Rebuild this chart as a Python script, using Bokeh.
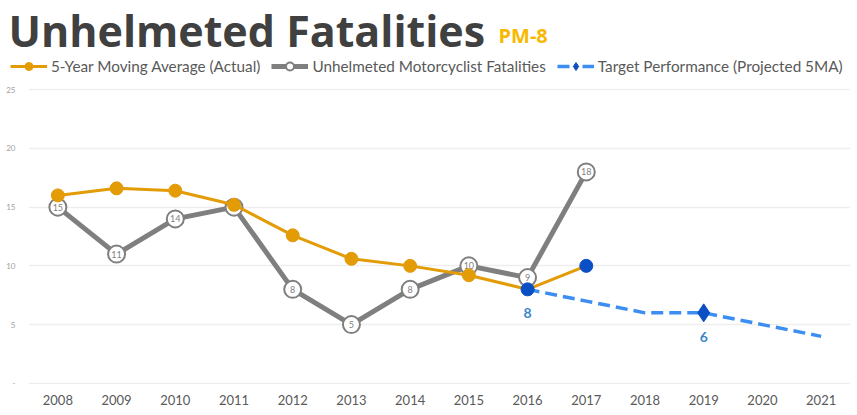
from bokeh.plotting import figure
from bokeh.layouts import column
from bokeh.models import ColumnDataSource, FixedTicker, Legend, LegendItem, Range1d, Label
from bokeh.core.properties import value
from bokeh.embed import file_html
from bokeh.resources import INLINE

# ---- data ----
years = list(range(2008, 2022))
ma_years = list(range(2008, 2018))
ma_values = [16.0, 16.6, 16.4, 15.2, 12.6, 10.6, 10.0, 9.2, 8.0, 10.0]
fat_years = list(range(2008, 2018))
fat_values = [15, 11, 14, 15, 8, 5, 8, 10, 9, 18]
target_years = [2016, 2017, 2018, 2019, 2020, 2021]
target_values = [8, 7, 6, 6, 5, 4]
target_marker_years = [2019]
target_marker_values = [6]
callout_years = [2016, 2019]
callout_values = [8, 6]
y_ticks = [0, 5, 10, 15, 20, 25]

title_text = "Unhelmeted Fatalities"
subtitle_text = "PM-8"
legend_labels = ["5-Year Moving Average (Actual)",
                 "Unhelmeted Motorcyclist Fatalities",
                 "Target Performance (Projected 5MA)"]

# ---- style ----
ORANGE = "#e39b06"
GRAY = "#7f7f7f"
DARKBLUE = "#0a4fc4"
LIGHTBLUE = "#3d8ef2"
LABELBLUE = "#3a86c6"
FONT = "Lato"
TITLE_FONT = "Open Sans"

W = 850
HEAD_H = 78
H = 333
BL, BR, BT, BB = 28, 0, 10, 27
X0, X1 = 2007.5, 2021.5
Y0, Y1 = -0.1, 25.1

# ---------------- main chart ----------------
p = figure(width=W, height=H, output_backend="svg", toolbar_location=None,
           title=None,
           x_range=Range1d(X0, X1), y_range=Range1d(Y0, Y1),
           min_border_left=BL, min_border_right=BR,
           min_border_top=BT, min_border_bottom=BB)
p.frame_align = False
p.outline_line_color = None
p.background_fill_color = "white"
p.border_fill_color = "white"

p.xaxis.ticker = FixedTicker(ticks=years)
p.xaxis.axis_line_color = None
p.xaxis.major_tick_line_color = None
p.xaxis.minor_tick_line_color = None
p.xaxis.major_tick_out = 0
p.xaxis.major_tick_in = 0
p.xaxis.minor_tick_out = 0
p.xaxis.major_label_text_font = FONT
p.xaxis.major_label_text_font_size = "13px"
p.xaxis.major_label_text_color = "#595959"
p.xaxis.major_label_standoff = 10

p.yaxis.ticker = FixedTicker(ticks=y_ticks)
p.yaxis.axis_line_color = None
p.yaxis.major_tick_line_color = None
p.yaxis.minor_tick_line_color = None
p.yaxis.major_tick_out = 0
p.yaxis.major_tick_in = 0
p.yaxis.minor_tick_out = 0
p.yaxis.major_label_text_font = FONT
p.yaxis.major_label_text_font_size = "8px"
p.yaxis.major_label_text_color = "#a0a0a0"
p.yaxis.major_label_standoff = 13
p.yaxis.major_label_overrides = {0: "-"}

p.xgrid.grid_line_color = None
p.ygrid.ticker = FixedTicker(ticks=y_ticks)
p.ygrid.grid_line_color = "#eeeeee"
p.ygrid.grid_line_width = 1.5

# target dashed line
tsrc = ColumnDataSource(dict(x=target_years, y=target_values))
p.line("x", "y", source=tsrc, line_color=LIGHTBLUE, line_width=3.5, line_dash="12 6")
msrc = ColumnDataSource(dict(x=target_marker_years, y=target_marker_values))
p.scatter("x", "y", source=msrc, marker="diamond", size=18,
          fill_color=DARKBLUE, line_color=DARKBLUE)

# fatalities
fsrc = ColumnDataSource(dict(x=fat_years, y=fat_values, lab=[str(v) for v in fat_values]))
p.line("x", "y", source=fsrc, line_color=GRAY, line_width=5)
p.scatter("x", "y", source=fsrc, marker="circle", size=17,
          fill_color="white", line_color=GRAY, line_width=2)
p.text("x", "y", text="lab", source=fsrc, text_align="center", text_baseline="middle",
       text_font=value(FONT), text_font_size="9px", text_color="#7f7f7f")

# moving average
ma_colors = [DARKBLUE if yr >= 2016 else ORANGE for yr in ma_years]
asrc = ColumnDataSource(dict(x=ma_years, y=ma_values, c=ma_colors))
p.line("x", "y", source=asrc, line_color=ORANGE, line_width=3)
p.scatter("x", "y", source=asrc, marker="circle", size=13,
          fill_color="c", line_color="c")

# callout labels
csrc = ColumnDataSource(dict(x=callout_years, y=callout_values, lab=[str(v) for v in callout_values]))
p.text("x", "y", text="lab", source=csrc, y_offset=24, text_align="center",
       text_baseline="middle", text_font=value(FONT), text_font_size="14px",
       text_font_style="bold", text_color=LABELBLUE)

# ---------------- header: title + legend ----------------
head = figure(width=W, height=HEAD_H, output_backend="svg", toolbar_location=None,
              title=None, x_axis_location=None, y_axis_location=None,
              x_range=Range1d(0, W), y_range=Range1d(0, HEAD_H),
              min_border=0, min_border_left=0, min_border_right=0,
              min_border_top=0, min_border_bottom=0)
head.frame_align = False
head.outline_line_color = None
head.xgrid.visible = False
head.ygrid.visible = False
head.background_fill_color = "white"
head.border_fill_color = "white"

# legend-key renderers: same series, lying outside this strip's visible range
h_aline = head.line(ma_years, ma_values, line_color=ORANGE, line_width=3)
h_amark = head.scatter(ma_years, ma_values, marker="circle",
                       fill_color=ORANGE, line_color=ORANGE)
h_fline = head.line(fat_years, fat_values, line_color=GRAY, line_width=5)
h_fmark = head.scatter(fat_years, fat_values, marker="circle",
                       fill_color="white", line_color=GRAY, line_width=2)
h_tline = head.line(target_years, target_values, line_color=LIGHTBLUE,
                    line_width=3.5, line_dash="12 13")
h_tmark = head.scatter(target_marker_years, target_marker_values, marker="diamond",
                       fill_color=DARKBLUE, line_color=DARKBLUE)

legend = Legend(items=[
    LegendItem(label=legend_labels[0], renderers=[h_aline, h_amark]),
    LegendItem(label=legend_labels[1], renderers=[h_fline, h_fmark]),
    LegendItem(label=legend_labels[2], renderers=[h_tline, h_tmark]),
], location=(10, 2), orientation="horizontal")
legend.glyph_width = 37
legend.glyph_height = 20
legend.spacing = 11
legend.label_standoff = 4
legend.padding = 0
legend.margin = 0
legend.border_line_color = None
legend.background_fill_alpha = 0
legend.label_text_font = FONT
legend.label_text_font_size = "15.3px"
legend.label_text_color = "#595959"
legend.label_height = 20
head.add_layout(legend)

head.add_layout(Label(x=8, y=48, x_units="screen", y_units="screen",
                      text=title_text, text_font=TITLE_FONT, text_font_size="43px",
                      text_font_style="bold", text_color="#404040",
                      text_baseline="alphabetic"))
head.add_layout(Label(x=498, y=43.5, x_units="screen", y_units="screen",
                      text=subtitle_text, text_font=TITLE_FONT, text_font_size="20px",
                      text_font_style="bold", text_color="#f8b800",
                      text_baseline="alphabetic"))

layout = column(head, p, spacing=0)
open("out.html", "w").write(file_html(layout, INLINE))
